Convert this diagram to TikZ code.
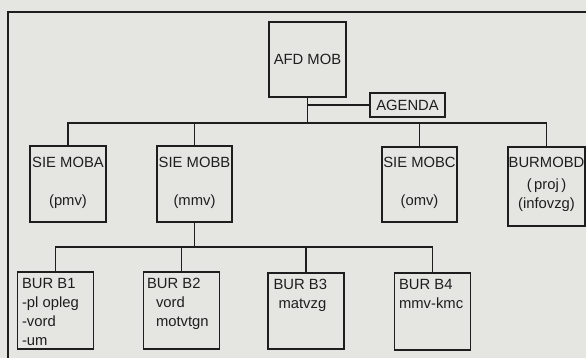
\documentclass[tikz,border=0pt]{standalone}
\usepackage{fontspec}
\setmainfont{Liberation Sans}
\usetikzlibrary{positioning}
\definecolor{paper}{RGB}{229,229,225}
\definecolor{ink}{RGB}{30,30,30}
\tikzset{
  unit/.style={draw=ink, line width=1.3pt, minimum width=76pt, minimum height=76pt, inner sep=0pt},
  txt/.style={font=\fontsize{14.8}{19}\selectfont, text=ink, inner sep=0pt},
  wire/.style={draw=ink, line width=1.3pt}
}
\begin{document}
\begin{tikzpicture}[x=1pt, y=-1pt]
	\fill[paper] (0,0) rectangle (586,358);
	\useasboundingbox (0,0) rectangle (586,358);
	% frame
	\draw[wire] (8,358) -- (8,12) -- (586,12);

	\node[unit, txt, minimum width=77pt, minimum height=75pt] (afd) at (307.5,59.5) {AFD MOB};
	\node[unit, txt, minimum width=75pt, minimum height=24pt] (agenda) at (407.5,105) {AGENDA};

	% sections
	\node[unit] (siea) at (68,184) {};
	\node[unit, minimum width=75pt] (sieb) at (194.5,184) {};
	\node[unit, minimum width=75pt, minimum height=75pt] (siec) at (419.5,184.5) {};
	\node[unit, minimum width=77pt, minimum height=79pt] (burd) at (546.5,186.5) {};

	\node[txt, align=center, below=12pt of siea.north] (tsiea) {SIE MOBA\\[19pt](pmv)};
	\node[txt, align=center, below=12pt of sieb.north] (tsieb) {SIE MOBB\\[19pt](mmv)};
	\node[txt, align=center, below=11pt of siec.north] (tsiec) {SIE MOBC\\[19pt](omv)};
	\node[txt, align=center, below=11pt of burd.north] (tburd) {BURMOBD\\[3pt](\,proj\,)\\(infovzg)};

	% bureaus
	\node[unit, minimum height=77pt] (b1) at (55.5,310.5) {};
	\node[unit, minimum height=77pt] (b2) at (181.5,310.5) {};
	\node[unit] (b3) at (306,311) {};
	\node[unit, minimum height=77pt] (b4) at (432.5,311.5) {};

	\node[txt, align=left, below right=7pt and 5pt of b1.north west] (tb1) {BUR B1\\-pl opleg\\-vord\\-um};
	\node[txt, align=left, below right=7pt and 4pt of b2.north west] (tb2) {BUR B2\\\hspace*{9pt}vord\\\hspace*{9pt}motvtgn};
	\node[txt, align=left, below right=7pt and 6pt of b3.north west] (tb3) {BUR B3\\\hspace*{5pt}matvzg};
	\node[txt, align=left, below right=7pt and 5pt of b4.north west] (tb4) {BUR B4\\mmv-kmc};

	% lines
	\coordinate (bus1) at (0,123);
	\coordinate (bus2) at (0,247);
	\draw[wire] (afd.south) -- (afd |- bus1);
	\draw[wire] (afd |- agenda) -- (agenda.west);
	\draw[wire] (siea.north) -- (siea |- bus1) -- (burd |- bus1) -- (burd.north);
	\draw[wire] (sieb.north) -- (sieb |- bus1);
	\draw[wire] (siec.north) -- (siec |- bus1);
	\draw[wire] (sieb.south) -- (sieb |- bus2);
	\draw[wire] (b1.north) -- (b1 |- bus2) -- (b4 |- bus2) -- (b4.north);
	\draw[wire] (b2.north) -- (b2 |- bus2);
	\draw[wire] (b3.north) -- (b3 |- bus2);
\end{tikzpicture}
\end{document}
